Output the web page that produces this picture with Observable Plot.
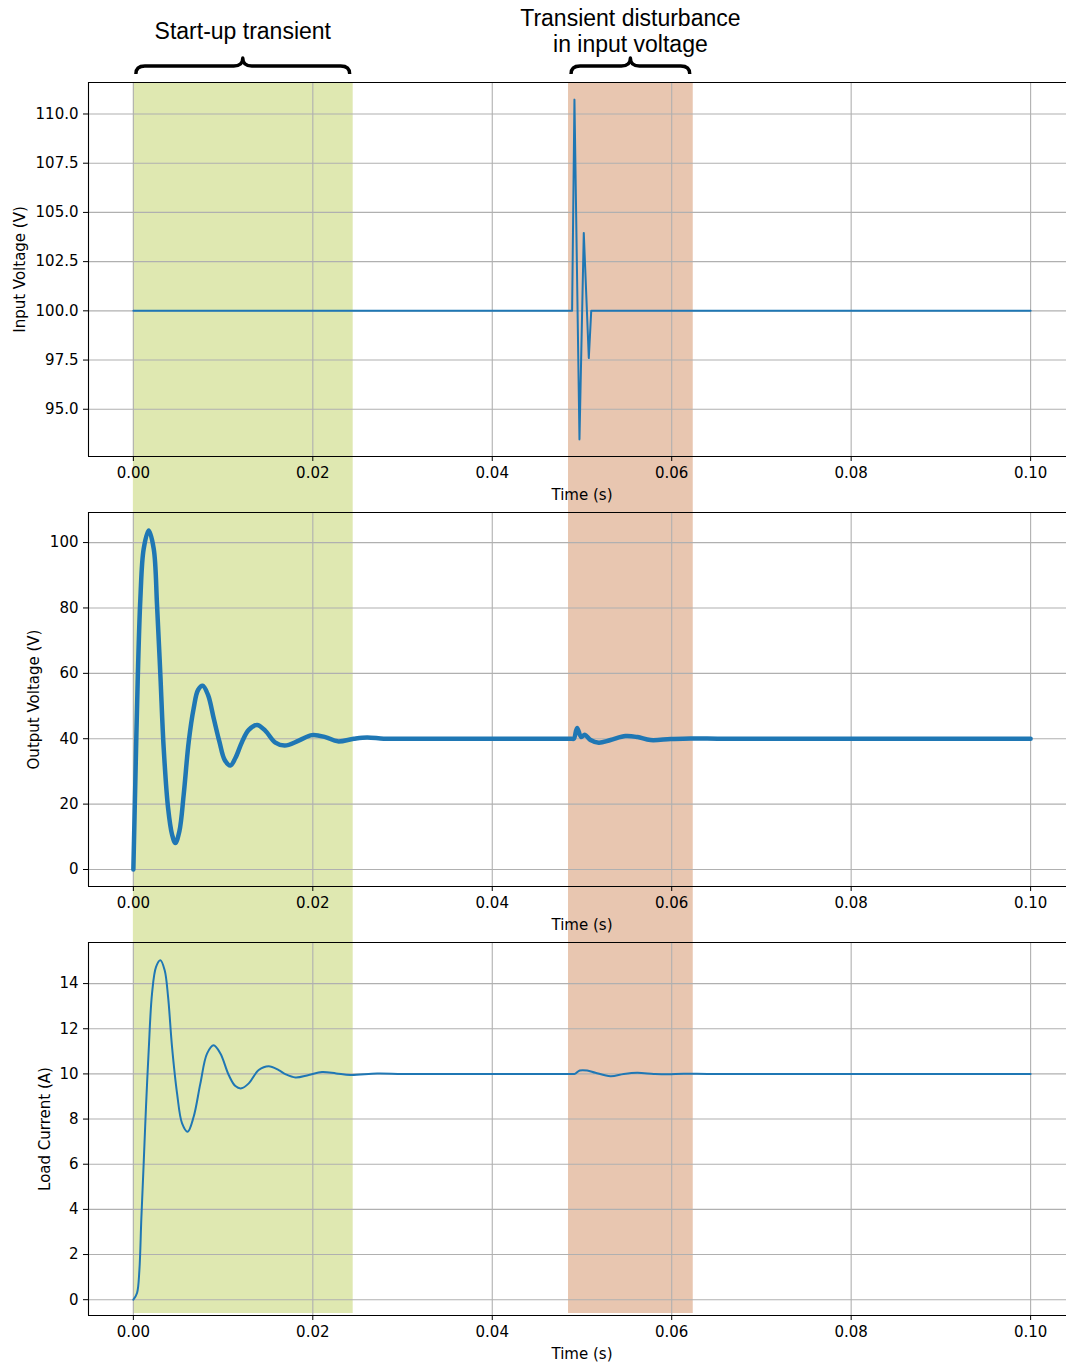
<!DOCTYPE html>
<html><head><meta charset="utf-8">
<script src="https://cdn.jsdelivr.net/npm/d3@7"></script>
<script src="https://cdn.jsdelivr.net/npm/@observablehq/plot@0.6"></script>
<style>
html,body{margin:0;padding:0;background:#fff;overflow:hidden;}
#fig{position:relative;width:1066px;height:1364px;overflow:hidden;background:#fff;}
#fig > svg{position:absolute;left:0;}
</style></head><body><div id="fig"></div>
<script>
// ---- data ----
const timeTicks = [0, 0.02, 0.04, 0.06, 0.08, 0.10];
const inTicks = [95, 97.5, 100, 102.5, 105, 107.5, 110];
const outTicks = [0, 20, 40, 60, 80, 100];
const curTicks = [0, 2, 4, 6, 8, 10, 12, 14];

const inT = [0, 0.0489, 0.04916, 0.04972, 0.0502, 0.05076, 0.05103, 0.1];
const inV = [100, 100, 110.73, 93.47, 103.96, 97.6, 100, 100];

const outT = [0, 0.00022, 0.00048, 0.00078, 0.00115, 0.00171, 0.00227, 0.00264, 0.00301, 0.00338,
  0.00387, 0.00431, 0.00468, 0.00513, 0.00561, 0.00617, 0.00672, 0.00721, 0.00773, 0.00832,
  0.00896, 0.00959, 0.01018, 0.01081, 0.01137, 0.01212, 0.01286, 0.01379, 0.01472, 0.01583,
  0.01687, 0.01843, 0.01992, 0.0214, 0.02278, 0.02456, 0.02605, 0.0279, 0.030, 0.035,
  0.045, 0.0488, 0.04909, 0.04946, 0.04991, 0.05031, 0.05095, 0.05187, 0.05318, 0.05485,
  0.05619, 0.05764, 0.05987, 0.0621, 0.0654, 0.07, 0.1];
const outV = [0, 26.9, 57.4, 82.8, 98.1, 103.7, 98.1, 80.8, 59.5, 37.1,
  18.8, 10.7, 8.1, 11.7, 22.9, 39.1, 49.3, 54.9, 56.2, 53.4,
  46.2, 39.1, 33.5, 31.8, 34.1, 39.1, 42.7, 44.2, 42.4, 38.8,
  37.9, 39.4, 41.1, 40.5, 39.2, 40.0, 40.4, 40.0, 40.0, 40.0,
  40.0, 40.0, 40.0, 43.3, 40.5, 41.2, 39.6, 38.8, 39.6, 40.8,
  40.5, 39.6, 39.9, 40.1, 40.0, 40.0, 40.0];

const curT = [0, 0.00041, 0.00067, 0.00089, 0.00115, 0.00141, 0.00171, 0.00208, 0.00253, 0.00301,
  0.00349, 0.00387, 0.00431, 0.00487, 0.00543, 0.00605, 0.00672, 0.00747, 0.00821, 0.00895,
  0.0097, 0.01063, 0.01137, 0.01204, 0.01286, 0.01397, 0.01508, 0.0162, 0.01694, 0.01806,
  0.01955, 0.02103, 0.0226, 0.02419, 0.02717, 0.030, 0.035, 0.045, 0.0488, 0.0492,
  0.04975, 0.05058, 0.0515, 0.05318, 0.05466, 0.05615, 0.058, 0.0595, 0.06135, 0.064,
  0.07, 0.1];
const curI = [0, 0.3, 1.3, 3.6, 6.04, 8.55, 11.05, 13.56, 14.74, 15.03,
  14.59, 13.41, 11.2, 9.14, 7.81, 7.44, 8.1, 9.58, 10.9, 11.27,
  10.9, 9.95, 9.46, 9.36, 9.58, 10.17, 10.34, 10.17, 9.99, 9.84,
  9.95, 10.08, 10.02, 9.95, 10.02, 10.0, 10.0, 10.0, 10.0, 10.0,
  10.15, 10.15, 10.05, 9.9, 10.0, 10.05, 10.0, 9.98, 10.01, 10.0,
  10.0, 10.0];

const spanStart = [0, 0.0485];
const spanEnd = [0.0245, 0.0624];
const spanLabels = [["Start-up transient"], ["Transient disturbance", "in input voltage"]];
const yLabels = ["Input Voltage (V)", "Output Voltage (V)", "Load Current (A)"];
const xLabel = "Time (s)";

// ---- layout ----
const fig = document.getElementById("fig");
const W = 1066, ML = 88, MT = 10, MB = 50;
const xDomain = [-0.005, 0.104];
const grid = {stroke: "#b0b0b0", strokeOpacity: 1, strokeWidth: 1.1};

function toRows(ts, vs) { return ts.map((t, i) => ({t, v: vs[i]})); }

function panel({rows, yDomain, yTicks, yFmt, yLabel, labelX, sw, curve, axesH}) {
  return Plot.plot({
    width: W, height: MT + axesH + MB,
    marginTop: MT, marginBottom: MB, marginLeft: ML, marginRight: 0,
    style: {background: "transparent", color: "black", fontFamily: "DejaVu Sans", fontSize: "15px", overflow: "visible"},
    x: {domain: xDomain},
    y: {domain: yDomain},
    marks: [
      Plot.gridX(timeTicks, grid),
      Plot.gridY(yTicks, grid),
      Plot.line(rows, {x: "t", y: "v", stroke: "#1f77b4", strokeWidth: sw, curve}),
      Plot.ruleY(yDomain, {stroke: "black", strokeWidth: 1.1}),
      Plot.ruleX([xDomain[0]], {stroke: "black", strokeWidth: 1.1}),
      Plot.axisX(timeTicks, {tickSize: 5, tickPadding: 6, tickFormat: d3.format(".2f"), label: null, fontSize: 15}),
      Plot.axisY(yTicks, {tickSize: 5, tickPadding: 5, tickFormat: yFmt, label: null, fontSize: 15}),
      Plot.text([yLabel], {frameAnchor: "left", dx: labelX - ML, rotate: -90, text: d => d, textAnchor: "middle", lineAnchor: "middle", fontSize: 15}),
      Plot.text([xLabel], {frameAnchor: "bottom", dx: 4.5, dy: 38.5, text: d => d, lineAnchor: "middle", fontSize: 15})
    ]
  });
}

const tops = [82, 512, 942];
const p1 = panel({rows: toRows(inT, inV), yDomain: [92.6, 111.6], yTicks: inTicks, yFmt: d3.format(".1f"),
  yLabel: yLabels[0], labelX: 20, sw: 2, curve: "linear", axesH: 374});
const p2 = panel({rows: toRows(outT, outV), yDomain: [-5.2, 109.2], yTicks: outTicks, yFmt: d3.format("d"),
  yLabel: yLabels[1], labelX: 34, sw: 4.5, curve: "catmull-rom", axesH: 374});
const p3 = panel({rows: toRows(curT, curI), yDomain: [-0.7, 15.82], yTicks: curTicks, yFmt: d3.format("d"),
  yLabel: yLabels[2], labelX: 45, sw: 2, curve: "catmull-rom", axesH: 373});

const xs = p1.scale("x");
const X = v => xs.apply(v);
const spanColors = ["#dfe8b1", "#e8c6b0"];

// underlay: figure-wide spans
const under = d3.create("svg").attr("width", W).attr("height", 1364).style("top", "0px");
spanStart.forEach((s, i) => {
  under.append("rect").attr("x", X(s)).attr("width", X(spanEnd[i]) - X(s))
    .attr("y", 82).attr("height", 1313 - 82).attr("fill", spanColors[i]);
});
fig.appendChild(under.node());

[p1, p2, p3].forEach((p, i) => { p.style.top = (tops[i] - MT) + "px"; fig.appendChild(p); });

// overlay: braces + labels
const over = d3.create("svg").attr("width", W).attr("height", 90).style("top", "0px");
function brace(x0, x1, yTop, yBot) {
  const xc = (x0 + x1) / 2, ym = (yTop + yBot) / 2, r = 9;
  return `M${x0},${yBot} Q${x0},${ym} ${x0 + r},${ym} L${xc - r},${ym} Q${xc},${ym} ${xc},${yTop}` +
         ` Q${xc},${ym} ${xc + r},${ym} L${x1 - r},${ym} Q${x1},${ym} ${x1},${yBot}`;
}
spanStart.forEach((s, i) => {
  const x0 = X(s) + 3, x1 = X(spanEnd[i]) - 3;
  over.append("path").attr("d", brace(x0, x1, 58, 74)).attr("fill", "none")
    .attr("stroke", "black").attr("stroke-width", 3.4).attr("stroke-linejoin", "round");
  const lines = spanLabels[i];
  const cx = (X(s) + X(spanEnd[i])) / 2;
  const base = lines.length === 1 ? [38.5] : [25.5, 51.5];
  lines.forEach((ln, j) => {
    over.append("text").attr("x", cx).attr("y", base[j]).attr("text-anchor", "middle")
      .attr("font-family", "Liberation Sans, Arial, sans-serif").attr("font-size", 23)
      .attr("fill", "black").text(ln);
  });
});
fig.appendChild(over.node());
</script></body></html>
